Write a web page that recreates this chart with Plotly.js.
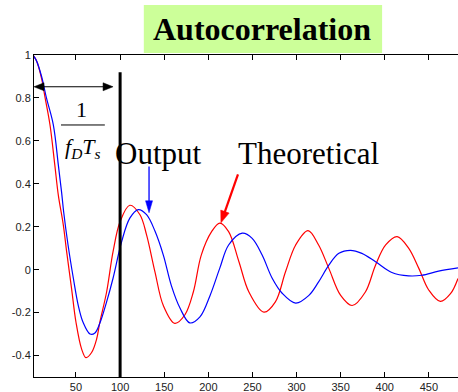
<!DOCTYPE html>
<html>
<head>
<meta charset="utf-8">
<script src="https://cdn.plot.ly/plotly-3.0.1.min.js"></script>
<style>html,body{margin:0;padding:0;background:#fff;}#chart{width:458px;height:392px;}</style>
</head>
<body>
<div id="chart"></div>
<script>
// Theoretical (red) curve
const theoLag = [1, 5, 11, 15, 20.5, 26, 30, 35.6, 39.4, 45, 50, 56.4, 61.3, 67.7, 73.4, 77, 84.7, 92, 100, 111, 122.5, 130, 139.5, 149, 162, 173.5, 183, 192, 203.7, 213, 223, 234.7, 246, 263, 276, 287.5, 299, 313, 325, 336.6, 350, 363, 378, 389.5, 401, 414, 427, 438.6, 450, 463, 474.5, 483];
const theoVal = [1, 0.975, 0.89, 0.8, 0.675, 0.487, 0.346, 0.209, 0.084, -0.088, -0.245, -0.37, -0.41, -0.386, -0.323, -0.245, -0.104, 0.084, 0.224, 0.30, 0.256, 0.162, -0.01, -0.167, -0.25, -0.21, -0.104, 0.068, 0.177, 0.217, 0.177, 0.037, -0.104, -0.198, -0.15, -0.01, 0.115, 0.182, 0.115, 0.006, -0.12, -0.167, -0.104, 0.021, 0.115, 0.154, 0.1, 0.006, -0.096, -0.148, -0.112, -0.041];
// Output (blue) curve
const outLag = [1, 5, 11, 16.5, 24.3, 30, 33.7, 36, 41, 47, 52.6, 58, 66, 71.5, 77, 84.7, 92, 101.7, 111, 120.6, 130, 139.5, 149, 158, 168, 179, 190.5, 202, 213, 223, 238.4, 249.7, 261, 272.4, 283.7, 299, 314, 325, 336.6, 348, 361, 374, 389.5, 408, 427, 442, 461, 483];
const outVal = [1, 0.975, 0.9, 0.8, 0.675, 0.487, 0.36, 0.27, 0.115, -0.04, -0.167, -0.245, -0.30, -0.295, -0.25, -0.15, -0.04, 0.13, 0.24, 0.28, 0.256, 0.18, 0.068, -0.073, -0.18, -0.248, -0.22, -0.12, 0.007, 0.115, 0.17, 0.146, 0.068, -0.04, -0.11, -0.156, -0.12, -0.057, 0.021, 0.076, 0.09, 0.076, 0.037, -0.013, -0.029, -0.026, -0.007, 0.008];
const xTicks = [50, 100, 150, 200, 250, 300, 350, 400, 450];
const yTicks = [-0.4, -0.2, 0, 0.2, 0.4, 0.6, 0.8, 1];
const yTickText = ['-0.4', '-0.2', '0', '0.2', '0.4', '0.6', '0.8', '1'];

const traces = [
  {x: theoLag, y: theoVal, mode: 'lines', line: {color: '#ff0000', width: 1.2, shape: 'spline', smoothing: 1}, hoverinfo: 'skip'},
  {x: outLag, y: outVal, mode: 'lines', line: {color: '#0000ff', width: 1.2, shape: 'spline', smoothing: 1}, hoverinfo: 'skip'}
];

function head(xa, ya, path, color) {
  return {type: 'path', xref: 'x', yref: 'y', xsizemode: 'pixel', ysizemode: 'pixel', xanchor: xa, yanchor: ya,
    path: path, fillcolor: color, line: {color: color, width: 0.5}};
}
function seg(x0, y0, x1, y1, color, w) {
  return {type: 'line', xref: 'x', yref: 'y', x0: x0, y0: y0, x1: x1, y1: y1, line: {color: color, width: w}};
}

const serif = 'Liberation Serif, Times New Roman, serif';
const layout = {
  width: 458, height: 392,
  margin: {l: 34, r: 0, t: 55, b: 15, pad: 0},
  paper_bgcolor: '#fff', plot_bgcolor: '#fff',
  showlegend: false,
  xaxis: {range: [2.4, 483], tickvals: xTicks, ticktext: xTicks.map(String), ticks: 'inside', ticklen: 5, tickcolor: '#000',
    showline: true, linecolor: '#000', linewidth: 1, mirror: 'ticks', showgrid: false, zeroline: false,
    tickfont: {family: 'Liberation Sans, Arial, sans-serif', size: 11, color: '#222'}},
  yaxis: {range: [-0.5, 1.0], tickvals: yTicks, ticktext: yTickText, ticks: 'inside', ticklen: 5, tickcolor: '#000',
    showline: true, linecolor: '#000', linewidth: 1, showgrid: false, zeroline: false,
    tickfont: {family: 'Liberation Sans, Arial, sans-serif', size: 11, color: '#222'}},
  shapes: [
    {type: 'rect', xref: 'paper', yref: 'paper', x0: 0.259, x1: 0.821, y0: 1.006, y1: 1.155, fillcolor: '#ccff99', line: {width: 0}, layer: 'above'},
    seg(100, 0.92, 100, -0.5, '#000', 3),
    seg(33, 0.674, 82.7, 0.674, '#000', 1),
    // blue arrow
    seg(132.8, 0.481, 132.8, 0.29, '#0000ff', 1.3),
    head(132.8, 0.265, 'M0,0 L-3.5,12 L3.5,12 Z', '#0000ff'),
    // red arrow
    seg(233.6, 0.444, 217.5, 0.255, '#ff0000', 2.2),
    head(214.3, 0.218, 'M0,0 L8.2,9.8 L-0.2,12.8 Z', '#ff0000'),
    // double arrow
    seg(6, 0.852, 88, 0.852, '#000', 1.2),
    head(2.4, 0.852, 'M0,0 L10,4 L10,-4 Z', '#000'),
    head(92, 0.852, 'M0,0 L-10,4 L-10,-4 Z', '#000')
  ],
  annotations: [
    {xref: 'paper', yref: 'paper', x: 0.538, y: 1.08, text: '<b>Autocorrelation</b>', showarrow: false, xanchor: 'center', yanchor: 'middle',
      font: {family: serif, size: 32, color: '#000'}},
    {xref: 'x', yref: 'y', x: 144, y: 0.542, text: 'Output', showarrow: false, xanchor: 'center', yanchor: 'middle',
      font: {family: serif, size: 31, color: '#000'}},
    {xref: 'x', yref: 'y', x: 313.4, y: 0.542, text: 'Theoretical', showarrow: false, xanchor: 'center', yanchor: 'middle',
      font: {family: serif, size: 31, color: '#000'}},
    {xref: 'x', yref: 'y', x: 56.7, y: 0.744, text: '1', showarrow: false, xanchor: 'center', yanchor: 'middle',
      font: {family: serif, size: 22, color: '#000'}},
    {xref: 'x', yref: 'y', x: 58, y: 0.566, text: '<i>f</i><sub><i>D</i></sub><i>T</i><sub><i>s</i></sub>', showarrow: false, xanchor: 'center', yanchor: 'middle',
      font: {family: serif, size: 22, color: '#000'}}
  ]
};
Plotly.newPlot('chart', traces, layout, {staticPlot: true, displayModeBar: false});
</script>
</body>
</html>
